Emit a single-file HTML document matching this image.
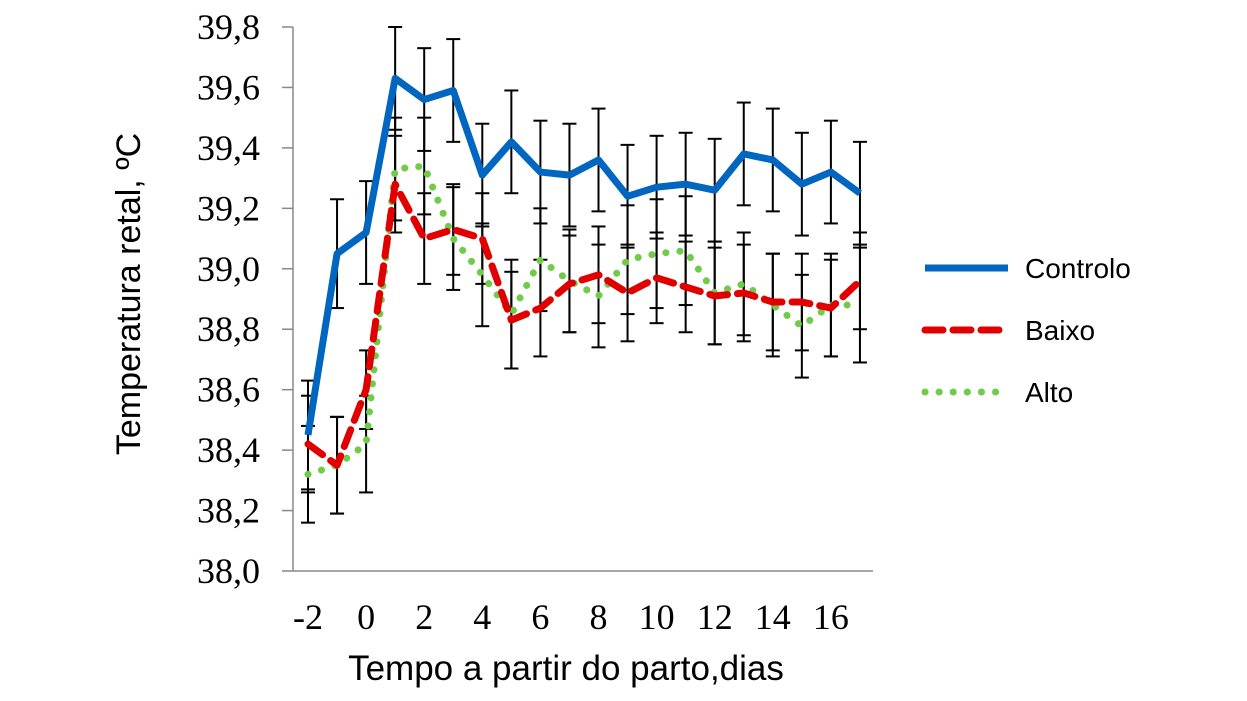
<!DOCTYPE html>
<html><head><meta charset="utf-8"><style>
html,body{margin:0;padding:0;background:#fff;width:1247px;height:701px;overflow:hidden}
</style></head><body>
<svg id="c" width="1247" height="701" xmlns="http://www.w3.org/2000/svg"></svg>
<script>
const days=[-2,-1,0,1,2,3,4,5,6,7,8,9,10,11,12,13,14,15,16,17];
const controlo=[38.45,39.05,39.12,39.63,39.56,39.59,39.31,39.42,39.32,39.31,39.36,39.24,39.27,39.28,39.26,39.38,39.36,39.28,39.32,39.25];
const controloErr=[0.18,0.18,0.17,0.17,0.17,0.17,0.17,0.17,0.17,0.17,0.17,0.17,0.17,0.17,0.17,0.17,0.17,0.17,0.17,0.17];
const baixo=[38.42,38.35,38.6,39.28,39.1,39.13,39.1,38.83,38.87,38.95,38.98,38.92,38.97,38.94,38.91,38.92,38.89,38.89,38.87,38.96];
const baixoErr=[0.16,0.16,0.13,0.16,0.15,0.15,0.15,0.16,0.16,0.16,0.16,0.16,0.15,0.15,0.16,0.16,0.16,0.16,0.16,0.16];
const alto=[38.32,38.35,38.42,39.33,39.34,39.1,38.98,38.85,39.03,38.96,38.91,39.03,39.05,39.06,38.92,38.95,38.88,38.81,38.88,38.88];
const altoErr=[0.16,0.16,0.16,0.17,0.16,0.17,0.17,0.18,0.17,0.17,0.17,0.18,0.18,0.18,0.17,0.17,0.17,0.17,0.17,0.19];
const yTicks=[38.0,38.2,38.4,38.6,38.8,39.0,39.2,39.4,39.6,39.8];
const xTicks=[-2,0,2,4,6,8,10,12,14,16];
const NS='http://www.w3.org/2000/svg';
const svg=document.getElementById('c');
const X=d=>308+(d+2)*29.05;
const Y=v=>571-(v-38)/1.8*544;
function mk(t,a,p){const e=document.createElementNS(NS,t);for(const k in a)e.setAttribute(k,a[k]);(p||svg).appendChild(e);return e;}
let e;
e=mk('line',{x1:293,y1:27,x2:293,y2:571,stroke:'#888','stroke-width':1.5});


e=mk('line',{x1:293,y1:571,x2:873,y2:571,stroke:'#888','stroke-width':1.5});


yTicks.forEach(v=>{
 mk('line',{x1:282,y1:Y(v),x2:293,y2:Y(v),stroke:'#888','stroke-width':1.5});
 e=mk('text',{x:260,y:Y(v)+12,'text-anchor':'end','font-family':'Liberation Serif, serif','font-size':36});
 e.textContent=v.toFixed(1).replace('.',',');
 
 
});
xTicks.forEach(d=>{
 e=mk('text',{x:X(d),y:629,'text-anchor':'middle','font-family':'Liberation Serif, serif','font-size':36});
 e.textContent=d;
 
 
});
e=mk('text',{x:566,y:680,'text-anchor':'middle','font-family':'Liberation Sans, sans-serif','font-size':35});
e.textContent='Tempo a partir do parto,dias';


e=mk('text',{x:0,y:0,'text-anchor':'middle','font-family':'Liberation Sans, sans-serif','font-size':34,transform:'translate(140,294) rotate(-90)'});
e.textContent='Temperatura retal, ºC';


const series=[
 {name:'controlo',vals:controlo,err:controloErr,color:'#0066c0',dash:'',w:7,cap:'butt',label:'Controlo'},
 {name:'baixo',vals:baixo,err:baixoErr,color:'#e00000',dash:'18 10',w:7,cap:'round',label:'Baixo'},
 {name:'alto',vals:alto,err:altoErr,color:'#70cc48',dash:'0.1 14',w:7,cap:'round',label:'Alto'}];
series.forEach(s=>{
 s.vals.forEach((v,i)=>{
  const x=X(days[i]),t=Y(v+s.err[i]),b=Y(v-s.err[i]);
  const g=mk('g',{stroke:'#000','stroke-width':2});
  
  
  mk('line',{x1:x,y1:t,x2:x,y2:b},g);
  mk('line',{x1:x-7,y1:t,x2:x+7,y2:t},g);
  mk('line',{x1:x-7,y1:b,x2:x+7,y2:b},g);
 });
});
series.slice().reverse().forEach(s=>{
 const pts=s.vals.map((v,i)=>X(days[i])+','+Y(v)).join(' ');
 const a={points:pts,fill:'none',stroke:s.color,'stroke-width':s.w,'stroke-linecap':s.cap,'stroke-linejoin':'round'};
 if(s.dash)a['stroke-dasharray']=s.dash;
 e=mk('polyline',a);
 
 
});
series.forEach((s,k)=>{
 const y=268+k*62;
 const a={x1:925,y1:y,x2:1008,y2:y,stroke:s.color,'stroke-width':s.w,'stroke-linecap':s.cap};
 if(s.dash)a['stroke-dasharray']=s.dash;
 e=mk('line',a);
 
 
 e=mk('text',{x:1025,y:y+10,'font-family':'Liberation Sans, sans-serif','font-size':28});
 e.textContent=s.label;
 
 
});
</script>
</body></html>
